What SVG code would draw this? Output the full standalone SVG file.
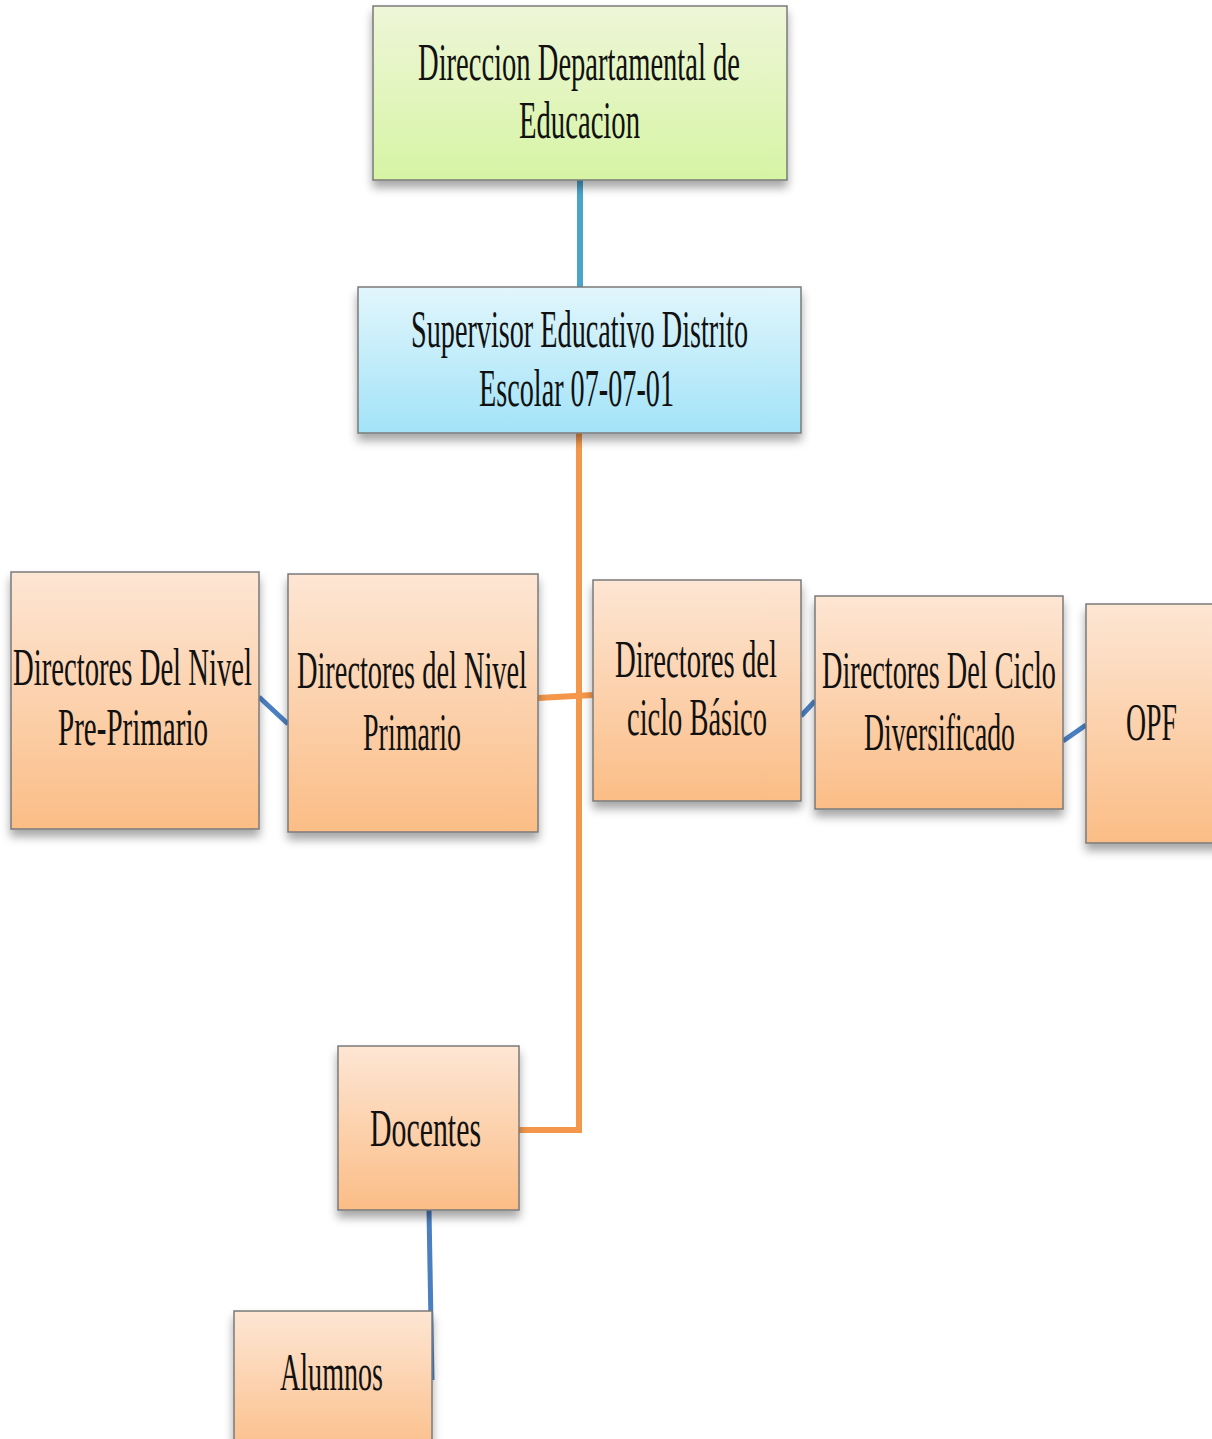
<svg xmlns="http://www.w3.org/2000/svg" width="1212" height="1439" viewBox="0 0 1212 1439">
<defs>
<linearGradient id="gO" x1="0" y1="0" x2="0" y2="1"><stop offset="0" stop-color="#fde6d4"/><stop offset="1" stop-color="#fbbd86"/></linearGradient>
<linearGradient id="gG" x1="0" y1="0" x2="0" y2="1"><stop offset="0" stop-color="#eef6d8"/><stop offset="1" stop-color="#d6f4a4"/></linearGradient>
<linearGradient id="gB" x1="0" y1="0" x2="0" y2="1"><stop offset="0" stop-color="#e2f6fc"/><stop offset="1" stop-color="#a2e3f8"/></linearGradient>
<filter id="sh" x="-10%" y="-10%" width="120%" height="130%"><feDropShadow dx="0" dy="7" stdDeviation="5" flood-color="#000" flood-opacity="0.35"/></filter>
</defs>
<style>
.box{stroke:#7a7a7a;stroke-width:1.5;filter:url(#sh)}
.o{fill:url(#gO)}
.t{font-family:"Liberation Serif","Times New Roman",serif;font-size:52px;fill:#111;text-anchor:start}
.cb{stroke:#4a7fc1;stroke-width:5;fill:none}
.co{stroke:#f5974a;stroke-width:6;fill:none}
</style>
<rect width="1212" height="1439" fill="#fff"/>
<g id="connectors">
<line x1="580" y1="180" x2="580" y2="287" stroke="#4aa5cb" stroke-width="6"/>
<polyline class="co" points="579,433 579,1130 519,1130"/>
<line class="co" x1="538" y1="698" x2="593" y2="695"/>
<line class="cb" x1="259" y1="697" x2="288" y2="724"/>
<line class="cb" x1="801" y1="716" x2="815" y2="701"/>
<line class="cb" x1="1063" y1="741" x2="1086" y2="725"/>
<line class="cb" x1="429" y1="1210" x2="432" y2="1380" stroke-width="4"/>
</g>
<g id="n-direccion">
<rect class="box" x="373" y="6" width="414" height="174" fill="url(#gG)"/>
<text class="t" x="418" y="80" textLength="322" lengthAdjust="spacingAndGlyphs">Direccion Departamental de</text>
<text class="t" x="519" y="138" textLength="121" lengthAdjust="spacingAndGlyphs">Educacion</text>
</g>
<g id="n-supervisor">
<rect class="box" x="358" y="287" width="443" height="146" fill="url(#gB)"/>
<text class="t" x="411" y="347" textLength="337" lengthAdjust="spacingAndGlyphs">Supervisor Educativo Distrito</text>
<text class="t" x="479" y="406" textLength="195" lengthAdjust="spacingAndGlyphs">Escolar 07-07-01</text>
</g>
<g id="n-preprimario">
<rect class="box o" x="11" y="572" width="248" height="257"/>
<text class="t" x="13" y="685" textLength="239" lengthAdjust="spacingAndGlyphs">Directores Del Nivel</text>
<text class="t" x="58" y="745" textLength="150" lengthAdjust="spacingAndGlyphs">Pre-Primario</text>
</g>
<g id="n-primario">
<rect class="box o" x="288" y="574" width="250" height="258"/>
<text class="t" x="297" y="688" textLength="230" lengthAdjust="spacingAndGlyphs">Directores del Nivel</text>
<text class="t" x="363" y="750" textLength="98" lengthAdjust="spacingAndGlyphs">Primario</text>
</g>
<g id="n-basico">
<rect class="box o" x="593" y="580" width="208" height="221"/>
<text class="t" x="615" y="677" textLength="162" lengthAdjust="spacingAndGlyphs">Directores del</text>
<text class="t" x="627" y="735" textLength="140" lengthAdjust="spacingAndGlyphs">ciclo Básico</text>
</g>
<g id="n-diversificado">
<rect class="box o" x="815" y="596" width="248" height="213"/>
<text class="t" x="822" y="688" textLength="234" lengthAdjust="spacingAndGlyphs">Directores Del Ciclo</text>
<text class="t" x="864" y="750" textLength="151" lengthAdjust="spacingAndGlyphs">Diversificado</text>
</g>
<g id="n-opf">
<rect class="box o" x="1086" y="604" width="150" height="239"/>
<text class="t" x="1126" y="740" textLength="51" lengthAdjust="spacingAndGlyphs">OPF</text>
</g>
<g id="n-docentes">
<rect class="box o" x="338" y="1046" width="181" height="164"/>
<text class="t" x="370" y="1146" textLength="111" lengthAdjust="spacingAndGlyphs">Docentes</text>
</g>
<g id="n-alumnos">
<rect class="box o" x="234" y="1311" width="198" height="150"/>
<text class="t" x="280" y="1390" textLength="103" lengthAdjust="spacingAndGlyphs">Alumnos</text>
</g>
</svg>
